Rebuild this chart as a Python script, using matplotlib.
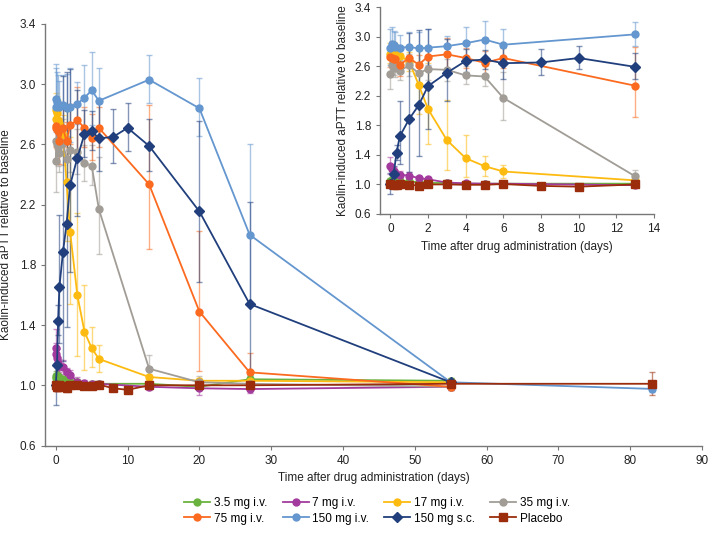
import numpy as np
import matplotlib
matplotlib.rcParams['font.family'] = ['Liberation Sans', 'DejaVu Sans']
matplotlib.rcParams['font.size'] = 8.5
import matplotlib.pyplot as plt
from matplotlib.colors import to_rgba
from matplotlib.lines import Line2D

# time points (days)
t_iv = [0, 0.08, 0.17, 0.25, 0.5, 1, 1.5, 2, 3, 4, 5, 6, 13, 20, 27, 55]
t_iv150 = t_iv + [83]
t_sc = [0, 0.17, 0.33, 0.5, 1, 1.5, 2, 3, 4, 5, 6, 8, 10, 13, 20, 27, 55]
t_pbo = [0, 0.17, 0.33, 0.5, 1, 1.5, 2, 3, 4, 5, 6, 8, 10, 13, 20, 27, 55, 83]

# geometric means and geometric SD factors
y_3_5 = [1.05, 1.06, 1.065, 1.06, 1.05, 1.04, 1.03, 1.02, 1.02, 1.01, 1.01, 1.01, 1.01, 0.99, 1.04, 1.03]
g_3_5 = [1.03, 1.03, 1.03, 1.02, 1.02, 1.02, 1.02, 1.02, 1.02, 1.02, 1.02, 1.02, 1.02, 1.02, 1.02, 1.02]
y_7 = [1.25, 1.21, 1.18, 1.145, 1.13, 1.12, 1.085, 1.07, 1.025, 1.015, 1.01, 1.01, 0.99, 0.98, 0.975, 0.99]
g_7 = [1.1, 1.06, 1.05, 1.04, 1.04, 1.04, 1.03, 1.03, 1.03, 1.02, 1.02, 1.02, 1.02, 1.05, 1.03, 1.02]
y_17 = [2.77, 2.83, 2.81, 2.76, 2.74, 2.66, 2.35, 2.02, 1.60, 1.355, 1.247, 1.175, 1.055, 1.03, 1.03, 1.02]
g_17 = [1.05, 1.04, 1.04, 1.05, 1.05, 1.05, 1.2, 1.31, 1.34, 1.23, 1.115, 1.08, 1.02, 1.02, 1.02, 1.03]
y_35 = [2.49, 2.62, 2.60, 2.58, 2.54, 2.61, 2.505, 2.56, 2.55, 2.475, 2.46, 2.17, 1.11, 1.02, 1.01, 0.99]
g_35 = [1.09, 1.05, 1.05, 1.05, 1.05, 1.06, 1.06, 1.06, 1.06, 1.05, 1.055, 1.16, 1.08, 1.04, 1.03, 1.02]
y_75 = [2.72, 2.71, 2.70, 2.69, 2.62, 2.71, 2.62, 2.73, 2.76, 2.71, 2.645, 2.71, 2.335, 1.49, 1.086, 0.99]
g_75 = [1.05, 1.05, 1.05, 1.05, 1.06, 1.05, 1.05, 1.05, 1.08, 1.05, 1.06, 1.05, 1.225, 1.36, 1.12, 1.02]
y_150 = [2.85, 2.90, 2.88, 2.86, 2.85, 2.86, 2.84, 2.85, 2.87, 2.91, 2.96, 2.89, 3.03, 2.84, 2.0, 1.02, 0.976]
g_150 = [1.09, 1.08, 1.07, 1.07, 1.06, 1.07, 1.08, 1.09, 1.05, 1.075, 1.085, 1.075, 1.055, 1.07, 1.3, 1.02, 1.02]
y_sc = [1.0, 1.135, 1.43, 1.65, 1.885, 2.07, 2.33, 2.51, 2.67, 2.69, 2.64, 2.65, 2.71, 2.59, 2.155, 1.54, 1.02]
g_sc = [1.15, 1.1, 1.07, 1.29, 1.62, 1.49, 1.33, 1.18, 1.06, 1.05, 1.09, 1.07, 1.06, 1.07, 1.28, 1.44, 1.02]
y_pbo = [1.0, 0.99, 0.99, 1.0, 0.995, 0.985, 1.0, 1.0, 0.995, 0.995, 1.005, 0.98, 0.97, 1.0, 1.0, 1.0, 1.01, 1.01]
g_pbo = [1.02, 1.03, 1.03, 1.02, 1.02, 1.03, 1.02, 1.02, 1.02, 1.02, 1.02, 1.02, 1.02, 1.02, 1.02, 1.02, 1.03, 1.08]

series = [
    ('3.5 mg i.v.', t_iv, y_3_5, g_3_5, '#6ab23e', 'o'),
    ('7 mg i.v.', t_iv, y_7, g_7, '#a33b9e', 'o'),
    ('17 mg i.v.', t_iv, y_17, g_17, '#fdbb11', 'o'),
    ('35 mg i.v.', t_iv, y_35, g_35, '#a19d96', 'o'),
    ('75 mg i.v.', t_iv, y_75, g_75, '#fb6a1f', 'o'),
    ('150 mg i.v.', t_iv150, y_150, g_150, '#6496cf', 'o'),
    ('150 mg s.c.', t_sc, y_sc, g_sc, '#203f7c', 'D'),
    ('Placebo', t_pbo, y_pbo, g_pbo, '#9b2d0c', 's'),
]

fig = plt.figure(figsize=(7.09, 5.33), dpi=100)
ax = fig.add_axes([45/709, 1-445.5/533, (702-45)/709, (445.5-24)/533])
axin = fig.add_axes([380/709, 1-214/533, (654-380)/709, (214-7)/533])

handles = []
for a, tmax in [(ax, 100), (axin, 13)]:
    for name, t, y, g, c, m in series:
        t = np.array(t)
        keep = t <= tmax
        t = t[keep]
        y = np.array(y)[keep]
        g = np.array(g)[keep]
        err = [y - y/g, y*g - y]
        size = 5.5 if m != 'o' else 5
        a.errorbar(t, y, yerr=err, color=c, marker=m, markersize=size,
                   linewidth=1.3, ecolor=to_rgba(c, 0.55), elinewidth=1.0,
                   capsize=2, capthick=1.0)
        if a is ax:
            handles.append(Line2D([], [], color=c, marker=m, markersize=size, linewidth=1.3))

for a in [ax, axin]:
    a.set_ylim(0.6, 3.4)
    a.set_yticks(np.arange(0.6, 3.41, 0.4))
    a.yaxis.set_major_formatter(matplotlib.ticker.FormatStrFormatter('%.1f'))
    for s in ['top', 'right']:
        a.spines[s].set_visible(False)
    for s in ['left', 'bottom']:
        a.spines[s].set_color('#777777')
        a.spines[s].set_linewidth(1.0)
    a.tick_params(colors='#777777', labelcolor='#222222', length=3, labelsize=8.5)
    a.set_ylabel('Kaolin-induced aPTT relative to baseline', color='#222222')
    a.set_xlabel('Time after drug administration (days)', color='#222222')

ax.set_xlim(-1.5, 90)
ax.set_xticks(np.arange(0, 91, 10))
ax.yaxis.set_label_coords(-0.05, 0.5)
axin.set_xlim(-0.55, 14)
axin.set_xticks(np.arange(0, 15, 2))
axin.patch.set_alpha(0)

order = [0, 4, 1, 5, 2, 6, 3, 7]
leg = fig.legend([handles[i] for i in order], [series[i][0] for i in order],
                 loc='lower center', bbox_to_anchor=(0.532, -0.004), ncol=4,
                 frameon=False, handlelength=2.2, handletextpad=0.3,
                 columnspacing=1.3, labelspacing=0.3, fontsize=8.5)

plt.savefig('out.png', dpi=100)
